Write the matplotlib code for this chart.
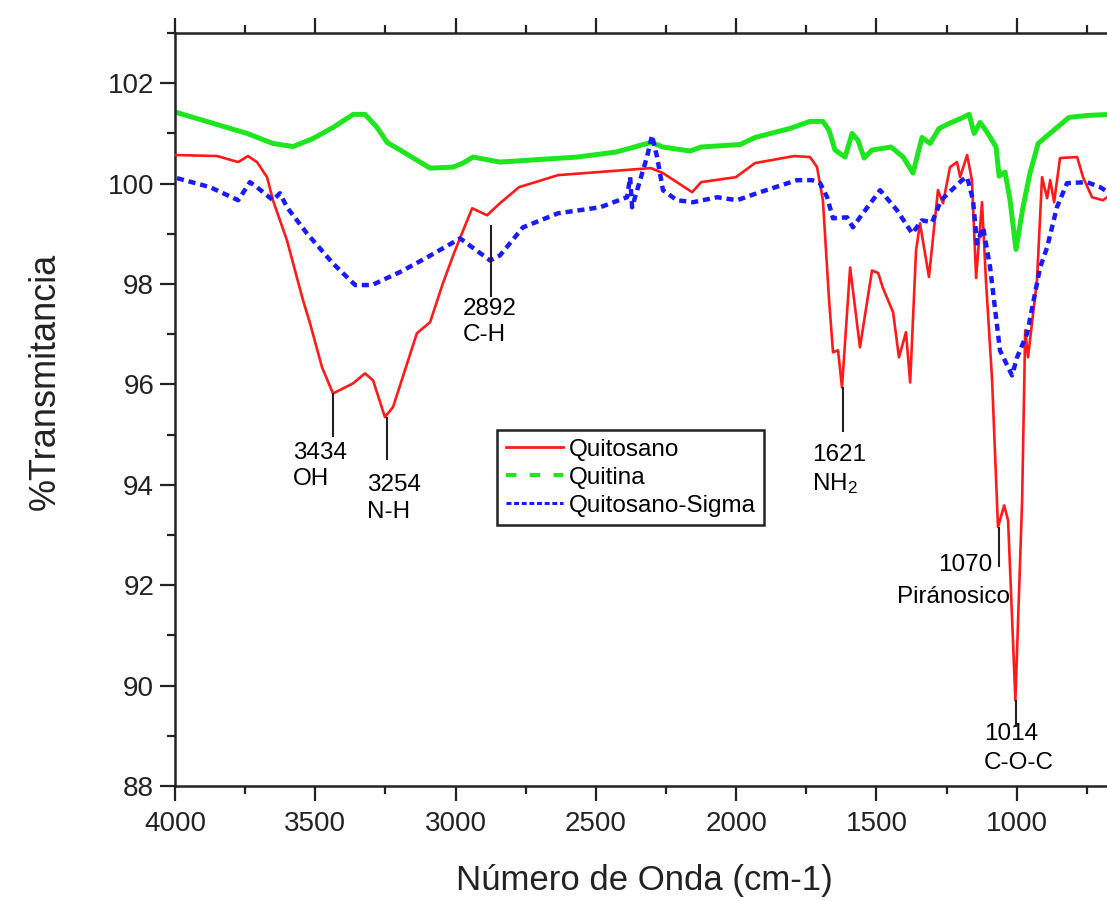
import matplotlib
matplotlib.use('Agg')
import matplotlib.pyplot as plt
from matplotlib.lines import Line2D
from matplotlib.ticker import MultipleLocator

plt.rcParams['font.family'] = ['Liberation Sans', 'DejaVu Sans']
plt.rcParams['mathtext.fontset'] = 'custom'
plt.rcParams['mathtext.rm'] = 'Liberation Sans'
plt.rcParams['mathtext.it'] = 'Liberation Sans:italic'

# espectros FTIR (numero de onda cm-1, % transmitancia)
quitosano_x = [3996, 3850, 3775, 3740, 3708, 3672, 3651, 3601, 3544, 3519, 3476, 3437,
               3366, 3323, 3294, 3252, 3223, 3138, 3091, 3045, 3002, 2941, 2888, 2842,
               2774, 2635, 2304, 2261, 2157, 2125, 2001, 1933, 1794, 1737, 1712, 1691,
               1669, 1655, 1637, 1623, 1594, 1559, 1516, 1494, 1477, 1441, 1420, 1395,
               1380, 1359, 1345, 1313, 1281, 1263, 1238, 1213, 1202, 1177, 1160, 1145,
               1124, 1110, 1088, 1067, 1045, 1031, 1005, 981, 970, 960, 928, 910, 892,
               881, 867, 846, 785, 764, 732, 693, 660]
quitosano_y = [100.57, 100.55, 100.43, 100.55, 100.43, 100.13, 99.67, 98.87, 97.68, 97.22,
               96.34, 95.82, 96.02, 96.22, 96.08, 95.35, 95.55, 97.02, 97.24, 98.02, 98.67,
               99.51, 99.37, 99.61, 99.93, 100.17, 100.31, 100.21, 99.83, 100.03, 100.13,
               100.41, 100.55, 100.53, 100.33, 99.67, 97.68, 96.64, 96.68, 95.94, 98.33,
               96.74, 98.27, 98.22, 97.92, 97.44, 96.54, 97.04, 96.04, 98.67, 99.21, 98.14,
               99.87, 99.61, 100.33, 100.43, 100.13, 100.57, 100.07, 98.12, 99.63, 98.08,
               96.08, 93.16, 93.59, 93.29, 89.71, 93.69, 97.08, 96.54, 98.08, 100.13,
               99.71, 100.07, 99.63, 100.51, 100.53, 100.13, 99.73, 99.67, 99.8]

quitina_x = [3996, 3743, 3651, 3579, 3508, 3437, 3365, 3323, 3280, 3244, 3198, 3091,
             3009, 2974, 2938, 2842, 2567, 2428, 2304, 2261, 2165, 2125, 1986, 1933,
             1808, 1737, 1691, 1669, 1648, 1612, 1587, 1566, 1544, 1516, 1448, 1405,
             1370, 1338, 1309, 1277, 1241, 1199, 1170, 1152, 1131, 1110, 1074, 1063,
             1042, 1024, 1003, 978, 953, 924, 882, 814, 746, 660]
quitina_y = [101.42, 101.00, 100.80, 100.74, 100.90, 101.12, 101.38, 101.38, 101.12,
             100.82, 100.67, 100.31, 100.33, 100.41, 100.53, 100.43, 100.53, 100.63,
             100.82, 100.73, 100.65, 100.73, 100.78, 100.92, 101.10, 101.24, 101.24,
             101.06, 100.67, 100.53, 101.00, 100.86, 100.51, 100.67, 100.73, 100.53,
             100.21, 100.92, 100.80, 101.10, 101.20, 101.30, 101.38, 101.00, 101.22,
             101.06, 100.73, 100.15, 100.23, 99.67, 98.69, 99.53, 100.21, 100.80,
             101.00, 101.32, 101.36, 101.38]

sigma_x = [3993, 3875, 3775, 3733, 3708, 3651, 3626, 3601, 3530, 3437, 3358, 3298,
           3198, 3102, 2984, 2877, 2842, 2760, 2635, 2485, 2389, 2378, 2371, 2350,
           2318, 2300, 2282, 2261, 2211, 2154, 2068, 1997, 1926, 1783, 1730, 1701,
           1676, 1655, 1605, 1584, 1559, 1487, 1427, 1373, 1338, 1302, 1270, 1195,
           1177, 1156, 1142, 1120, 1095, 1060, 1017, 999, 963, 917, 892, 857, 821,
           750, 703, 660]
sigma_y = [100.11, 99.93, 99.67, 100.03, 99.93, 99.67, 99.81, 99.53, 99.01, 98.41,
           97.98, 97.98, 98.24, 98.53, 98.91, 98.47, 98.57, 99.13, 99.41, 99.53, 99.73,
           100.13, 99.53, 99.93, 100.53, 100.96, 100.53, 99.87, 99.67, 99.63, 99.73,
           99.67, 99.81, 100.07, 100.07, 100.01, 99.73, 99.31, 99.33, 99.13, 99.33,
           99.87, 99.47, 99.01, 99.27, 99.23, 99.67, 100.07, 100.13, 99.67, 98.81,
           99.13, 98.33, 96.68, 96.18, 96.54, 97.02, 98.33, 98.73, 99.53, 100.01,
           100.03, 99.93, 99.78]

# bandas asignadas: posicion, extremos de la marca y etiqueta
band_x = [3437, 3244, 2874, 1619, 1063, 1003]
band_top = [95.82, 95.35, 99.17, 95.94, 93.16, 89.71]
band_bottom = [94.95, 94.49, 97.74, 95.05, 92.36, 89.17]

rojo = '#ff1a1a'
verde = '#1ee61e'
azul = '#1a1aff'

fig = plt.figure(figsize=(11.07, 9.01), dpi=100)
ax = fig.add_axes([0.1581, 0.1276, 0.8618, 0.8357])

ax.plot(quitosano_x, quitosano_y, color=rojo, lw=1.9, zorder=3)
ax.plot(quitina_x, quitina_y, color=verde, lw=3.6, zorder=2)
ax.plot(sigma_x, sigma_y, color=azul, lw=3.2, dashes=(1.6, 1.1), zorder=4)

ax.vlines(band_x, band_bottom, band_top, colors='#222222', lw=1.5, zorder=5)

fs = 17.5
ax.text(3579, 94.85, '3434\nOH', fontsize=fs, ha='left', va='top', linespacing=1.25)
ax.text(3316, 94.21, '3254\nN-H', fontsize=fs, ha='left', va='top', linespacing=1.25)
ax.text(2974, 97.72, '2892\nC-H', fontsize=fs, ha='left', va='top', linespacing=1.25)
ax.text(1730, 94.81, '1621\nNH$_2$', fontsize=fs, ha='left', va='top', linespacing=1.25)
ax.text(1088, 92.62, '1070', fontsize=fs, ha='right', va='top')
ax.text(1427, 91.98, 'Piránosico', fontsize=fs, ha='left', va='top')
ax.text(1117, 89.25, '1014\nC-O-C', fontsize=fs, ha='left', va='top', linespacing=1.4)

ax.set_xlim(4000, 600)
ax.set_ylim(88, 103)
ax.xaxis.set_major_locator(MultipleLocator(500))
ax.xaxis.set_minor_locator(MultipleLocator(250))
ax.yaxis.set_major_locator(MultipleLocator(2))
ax.yaxis.set_minor_locator(MultipleLocator(1))

ax.tick_params(which='both', direction='out', top=True, right=False, labeltop=False,
               width=1.6, colors='#222222', labelsize=20)
ax.tick_params(which='major', length=11)
ax.tick_params(which='minor', length=6)
ax.tick_params(axis='x', pad=7)
ax.tick_params(axis='y', pad=4)
for s in ax.spines.values():
    s.set_linewidth(1.8)
    s.set_color('#222222')

ax.set_xlabel('Número de Onda (cm-1)', fontsize=25, color='#222222')
ax.set_ylabel('%Transmitancia', fontsize=26, color='#222222')
ax.xaxis.set_label_coords(0.4916, -0.104)
ax.yaxis.set_label_coords(-0.118, 0.537)

handles = [Line2D([], [], color=rojo, lw=2),
           Line2D([], [], color=verde, lw=3, dashes=(2.5, 3.2)),
           Line2D([], [], color=azul, lw=2.2, dashes=(1.6, 0.9))]
leg = ax.legend(handles, ['Quitosano', 'Quitina', 'Quitosano-Sigma'],
                loc='upper left', bbox_to_anchor=(497 / 1107, 1 - 430 / 901),
                bbox_transform=fig.transFigure, borderaxespad=0, fontsize=fs,
                fancybox=False, framealpha=1, edgecolor='#222222',
                handlelength=2.35, handletextpad=0.25, labelspacing=0.25,
                borderpad=0.35)
leg.get_frame().set_linewidth(1.8)

fig.savefig('out.png', dpi=100)
plt.close(fig)
